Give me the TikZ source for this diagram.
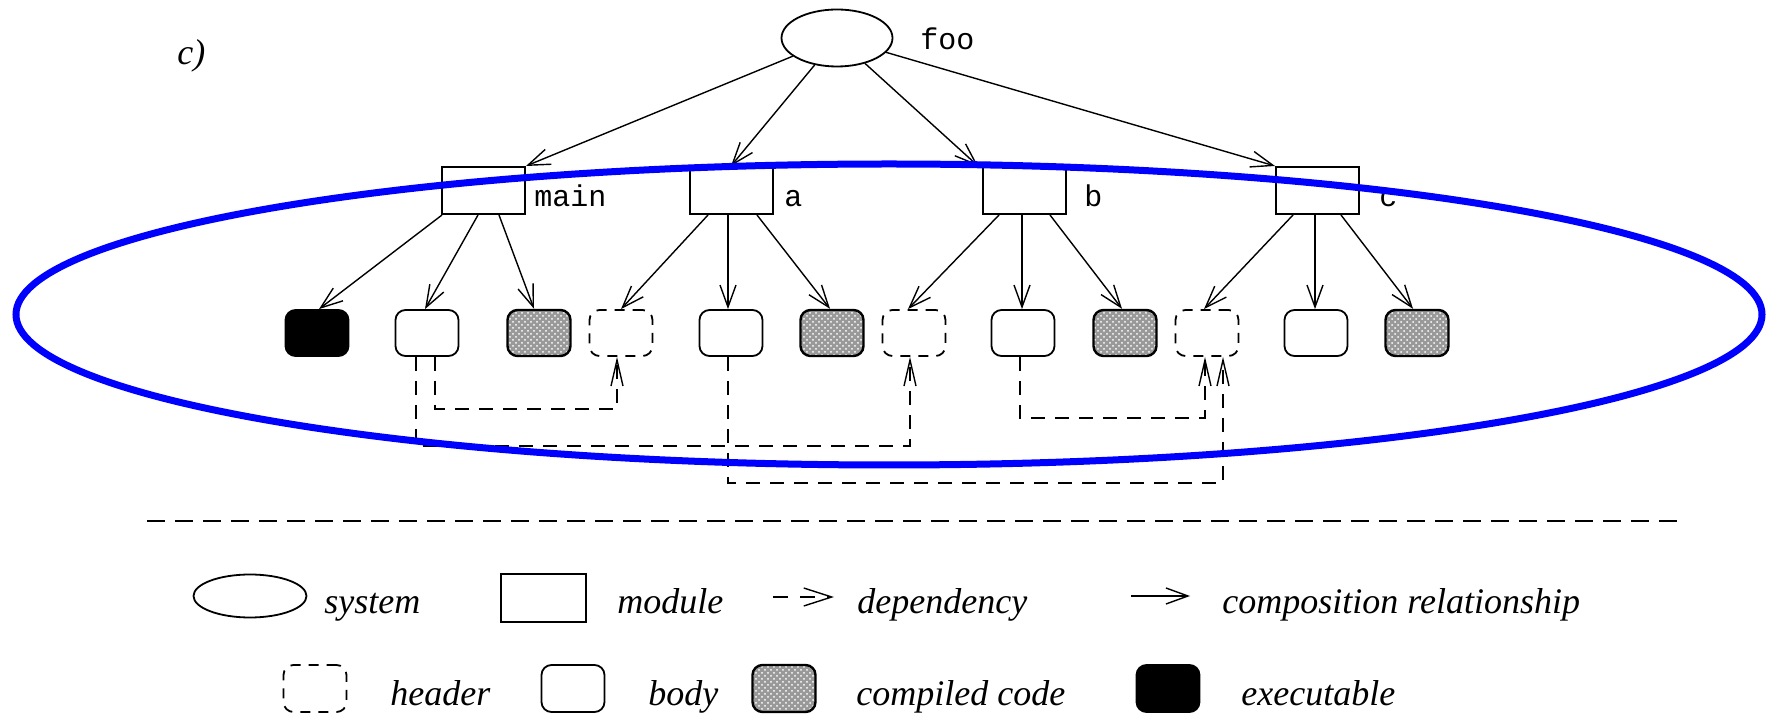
\documentclass[tikz,border=0pt]{standalone}
\usepackage{fontspec}
\setmainfont{Liberation Serif}
\setmonofont{Liberation Mono}
\usetikzlibrary{arrows.meta,shapes.geometric,patterns,calc}
\begin{document}
\begin{tikzpicture}[x=0.5pt,y=-0.5pt,
  comp/.style={-{Straight Barb[length=11pt,width=8pt]}, line width=0.7pt},
  dep/.style={-{Straight Barb[length=13pt,width=6pt]}, line width=0.7pt, dash pattern=on 7pt off 5pt},
  module/.style={draw, line width=1pt, minimum width=41.5pt, minimum height=23.5pt, inner sep=0pt},
  leaf/.style={draw, rounded corners=5pt, line width=0.9pt, minimum width=31.5pt, minimum height=23pt, inner sep=0pt},
  hdr/.style={leaf, dash pattern=on 5pt off 4pt},
  bdy/.style={leaf},
  cmp/.style={leaf, line width=1.2pt, preaction={fill=gray!80}, pattern=crosshatch dots, pattern color=white},
  exe/.style={leaf, fill=black},
  sysnode/.style={draw, ellipse, line width=0.9pt, inner sep=0pt},
  lbl/.style={font=\fontsize{15}{18}\selectfont\ttfamily, anchor=base west, inner sep=0pt},
  leg/.style={font=\fontsize{18}{21}\selectfont\itshape, anchor=base west, inner sep=0pt},
]
\useasboundingbox (0,0) rectangle (1767,715);

\node[leg] (clbl) at (177,65) {c)};

% system
\node[sysnode, minimum width=55.5pt, minimum height=28.5pt] (foo) at (837,38) {};
\node[lbl] (foolbl) at (920,50) {foo};

% modules
\node[module] (main) at (483.5,190.5) {};
\node[module] (a) at (731,190.5) {};
\node[module] (b) at (1024.5,190.5) {};
\node[module] (c) at (1317.5,190.5) {};
\node[lbl] (mainlbl) at (534,207) {main};
\node[lbl] (albl) at (784,207) {a};
\node[lbl] (blbl) at (1084,207) {b};
\node[lbl] (clbl2) at (1379,207) {c};

\draw[comp] (foo) -- (main.north east);
\draw[comp] (foo) -- (a.north);
\draw[comp] (foo) -- ([xshift=-2pt]b.north west);
\draw[comp] (foo) -- (c.north west);

% leaves
\node[exe] (ex1) at (317,333) {};
\node[bdy] (bd1) at (427,333) {};
\node[cmp] (cp1) at (539,333) {};
\node[hdr] (hd1) at (621,333) {};
\node[bdy] (bd2) at (731,333) {};
\node[cmp] (cp2) at (832,333) {};
\node[hdr] (hd2) at (914,333) {};
\node[bdy] (bd3) at (1023,333) {};
\node[cmp] (cp3) at (1125,333) {};
\node[hdr] (hd3) at (1207,333) {};
\node[bdy] (bd4) at (1316,333) {};
\node[cmp] (cp4) at (1417,333) {};

% composition arrows
\draw[comp] ([xshift=-20.75pt]main.south) -- ([xshift=1pt]ex1.north);
\draw[comp] ([xshift=-2.75pt]main.south) -- ([xshift=-1pt]bd1.north);
\draw[comp] ([xshift=7.75pt]main.south) -- ([xshift=-2.5pt]cp1.north);
\draw[comp] ([xshift=-11.5pt]a.south) -- (hd1.north);
\draw[comp] ([xshift=-1.5pt]a.south) -- ([xshift=-1.5pt]bd2.north);
\draw[comp] ([xshift=13pt]a.south) -- ([xshift=-1pt]cp2.north);
\draw[comp] ([xshift=-12.75pt]b.south) -- ([xshift=-3pt]hd2.north);
\draw[comp] ([xshift=-1.25pt]b.south) -- ([xshift=-0.5pt]bd3.north);
\draw[comp] ([xshift=12.75pt]b.south) -- ([xshift=-1.5pt]cp3.north);
\draw[comp] ([xshift=-12.25pt]c.south) -- ([xshift=-1.5pt]hd3.north);
\draw[comp] ([xshift=-1.25pt]c.south) -- ([xshift=-0.5pt]bd4.north);
\draw[comp] ([xshift=11.75pt]c.south) -- ([xshift=-2pt]cp4.north);

% dependencies
\draw[dep] ([xshift=4pt]bd1.south) -- ++(0pt,-26pt) -| ([xshift=-2pt]hd1.south);
\draw[dep] ([xshift=-5.5pt]bd1.south) -- ++(0pt,-44.5pt) -| ([xshift=-2pt]hd2.south);
\draw[dep] ([xshift=-1.5pt]bd2.south) -- ++(0pt,-63pt) -| ([xshift=8pt]hd3.south);
\draw[dep] ([xshift=-1.5pt]bd3.south) -- ++(0pt,-30.5pt) -| ([xshift=-1pt]hd3.south);

% highlight ellipse
\draw[blue, line width=3.5pt] (889,314.5) ellipse [x radius=436.5pt, y radius=75.25pt];

% separator
\coordinate (sepL) at (147,521);
\coordinate (sepR) at (1685,521);
\draw[dash pattern=on 9pt off 5pt, line width=1pt] (sepL) -- (sepR);

% legend row 1
\node[sysnode, minimum width=56.5pt, minimum height=21.5pt] (lsys) at (250,596) {};
\node[leg] (tsys) at (324,614) {system};
\node[module, minimum width=42.5pt, minimum height=24pt] (lmod) at (543.5,598) {};
\node[leg] (tmod) at (617,614) {module};
\coordinate (ldepA) at (773,597);
\coordinate (ldepB) at (834,597);
\draw[dep, dash pattern=on 7.5pt off 6pt, -{Straight Barb[length=14pt,width=9pt]}] (ldepA) -- (ldepB);
\node[leg] (tdep) at (857,614) {dependency};
\coordinate (lcompA) at (1131,596);
\coordinate (lcompB) at (1190,596);
\draw[comp] (lcompA) -- (lcompB);
\node[leg] (tcomp) at (1222,614) {composition relationship};

% legend row 2
\node[hdr, minimum height=23.5pt] (lhdr) at (315,688.5) {};
\node[leg] (thdr) at (390,705) {header};
\node[bdy, minimum height=23.5pt] (lbdy) at (573,688.5) {};
\node[leg] (tbdy) at (648,705) {body};
\node[cmp, minimum height=23.5pt] (lcmp) at (784,688.5) {};
\node[leg] (tcmp) at (856,705) {compiled code};
\node[exe, minimum height=23.5pt] (lexe) at (1168,688.5) {};
\node[leg] (texe) at (1241,705) {executable};
\end{tikzpicture}
\end{document}
